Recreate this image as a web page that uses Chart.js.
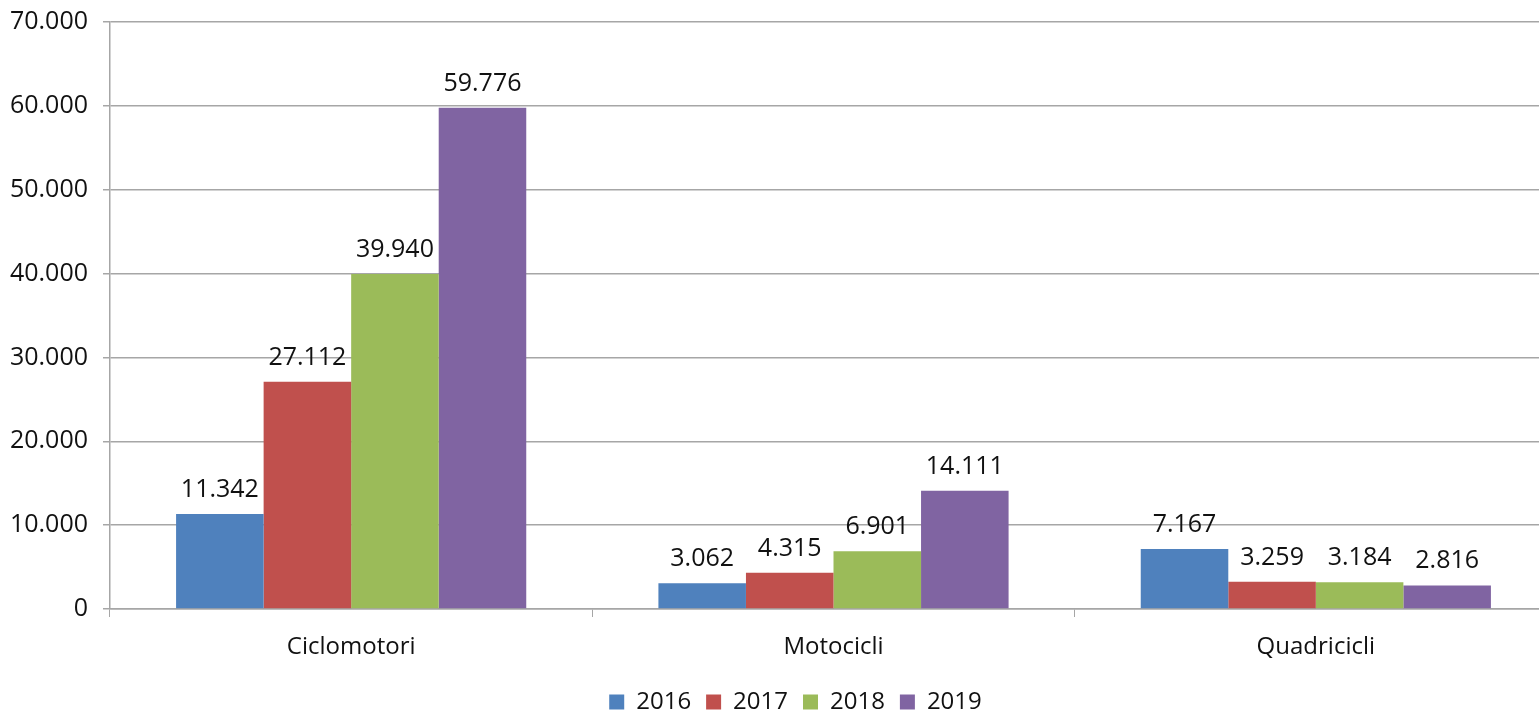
<!DOCTYPE html>
<html>
<head>
<meta charset="utf-8">
<script src="https://cdn.jsdelivr.net/npm/chart.js@4.4.1/dist/chart.umd.min.js"></script>
<style>
  html, body { margin: 0; padding: 0; background: #fff; overflow: hidden; }
  #wrap { position: absolute; left: 0; top: 0; width: 1560px; height: 710px; }
</style>
</head>
<body>
<div id="wrap"><canvas id="c" width="1560" height="710"></canvas></div>
<script>
const categories = ['Ciclomotori', 'Motocicli', 'Quadricicli'];
const seriesNames = ['2016', '2017', '2018', '2019'];
const values2016 = [11342, 3062, 7167];
const values2017 = [27112, 4315, 3259];
const values2018 = [39940, 6901, 3184];
const values2019 = [59776, 14111, 2816];
const seriesColors = ['#4F81BD', '#C0504D', '#9BBB59', '#8064A2'];
const yTicks = [0, 10000, 20000, 30000, 40000, 50000, 60000, 70000];

const FONT = '"Open Sans", sans-serif';
function fmt(v) {
  return String(Math.round(v)).replace(/\B(?=(\d{3})+(?!\d))/g, '.');
}

const allValues = [values2016, values2017, values2018, values2019];

const dataLabels = {
  id: 'dataLabels',
  afterDatasetsDraw(chart) {
    const ctx = chart.ctx;
    ctx.save();
    ctx.font = '25px ' + FONT;
    ctx.fillStyle = '#111';
    ctx.textAlign = 'center';
    ctx.textBaseline = 'alphabetic';
    chart.data.datasets.forEach((ds, i) => {
      const meta = chart.getDatasetMeta(i);
      meta.data.forEach((bar, j) => {
        ctx.fillText(fmt(ds.data[j]), bar.x, bar.y - 17);
      });
    });
    ctx.restore();
  }
};

const legendTweak = {
  id: 'legendTweak',
  afterInit(chart) {
    const lg = chart.legend;
    if (!lg) return;
    const origFit = lg.fit.bind(lg);
    lg.fit = function () { origFit(); this.height = 48; };
  },
  afterLayout(chart) {
    const lg = chart.legend;
    if (!lg) return;
    lg.left += 17; lg.right += 17;
    lg.top += 13; lg.bottom += 13;
    lg.adjustHitBoxes();
  }
};

Chart.defaults.font.family = FONT;
Chart.defaults.color = '#111';

new Chart(document.getElementById('c'), {
  type: 'bar',
  data: {
    labels: categories,
    datasets: seriesNames.map((n, i) => ({
      label: n,
      data: allValues[i],
      backgroundColor: seriesColors[i],
      borderWidth: 0,
      categoryPercentage: 0.726,
      barPercentage: 1.0
    }))
  },
  options: {
    responsive: false,
    animation: false,
    devicePixelRatio: 1,
    layout: { padding: { left: 0, right: 3, top: 22, bottom: 0 } },
    plugins: {
      tooltip: { enabled: false },
      legend: {
        position: 'bottom',
        labels: {
          boxWidth: 15,
          boxHeight: 15,
          padding: 15,
          font: { size: 24, family: FONT },
          color: '#111'
        }
      }
    },
    scales: {
      x: {
        offset: true,
        grid: {
          offset: true,
          drawOnChartArea: false,
          drawTicks: true,
          tickLength: 8,
          color: '#a6a6a6'
        },
        border: { color: '#a6a6a6', width: 1.5 },
        ticks: { font: { size: 24, family: FONT }, color: '#111', padding: 16 },
        afterFit(s) { s.height = 53; }
      },
      y: {
        min: 0,
        max: 70000,
        afterBuildTicks(s) { s.ticks = yTicks.map(v => ({ value: v })); },
        grid: { color: '#a6a6a6', lineWidth: 1.5, tickLength: 7 },
        border: { color: '#a6a6a6', width: 1.5 },
        ticks: {
          font: { size: 25, family: FONT },
          color: '#111',
          padding: 15,
          callback: v => fmt(v)
        },
        afterFit(s) { s.width = 110; s.paddingTop = 0; s.paddingBottom = 0; }
      }
    }
  },
  plugins: [dataLabels, legendTweak]
});
</script>
</body>
</html>
